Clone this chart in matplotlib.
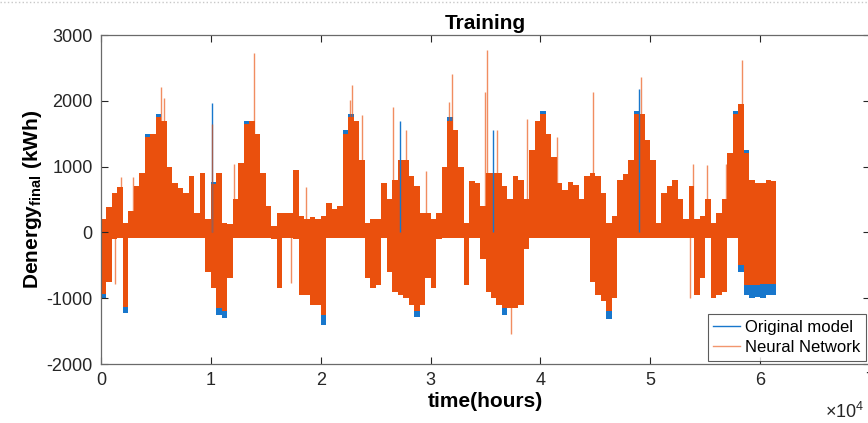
import numpy as np
import matplotlib
matplotlib.use('Agg')
import matplotlib.pyplot as plt
from matplotlib.lines import Line2D

plt.rcParams['font.family'] = ['Liberation Sans', 'DejaVu Sans']
plt.rcParams['mathtext.fontset'] = 'custom'
plt.rcParams['mathtext.rm'] = 'Liberation Sans'
plt.rcParams['mathtext.bf'] = 'Liberation Sans:bold'
plt.rcParams['axes.unicode_minus'] = False

# ---- data: per 500-hour bin envelope ----
bin_hours = 500
t_end = 61400

nn_top = [200, 380, 600, 690, 150, 330, 700, 900, 1450, 1500,
          1750, 1700, 1000, 750, 680, 600, 850, 300, 900, 200,
          740, 900, 150, 130, 500, 1050, 1650, 1700, 1500, 900,
          400, 100, 300, 300, 300, 950, 250, 200, 230, 200,
          250, 450, 350, 400, 1500, 1750, 1700, 1100, 150, 200,
          200, 750, 500, 800, 1100, 1100, 850, 700, 300, 300,
          200, 300, 1000, 1700, 1550, 1000, 150, 780, 750, 400,
          900, 900, 900, 700, 500, 850, 800, 500, 1250, 1700,
          1800, 1500, 1150, 750, 650, 760, 720, 500, 850, 900,
          850, 600, 150, 250, 800, 880, 1100, 1800, 1800, 1400,
          1100, 150, 600, 700, 800, 500, 200, 700, 200, 250,
          500, 150, 300, 500, 1200, 1800, 1950, 1200, 800, 750,
          750, 800, 780]

nn_bot = [-930, -750, -100, -90, -1130, -90, -90, -90, -90, -90,
          -90, -90, -90, -90, -90, -90, -90, -90, -90, -600,
          -850, -1150, -1200, -700, -90, -90, -90, -90, -90, -90,
          -90, -100, -850, -90, -90, -100, -950, -950, -1100, -1100,
          -1250, -90, -90, -90, -90, -90, -90, -90, -700, -850,
          -800, -90, -600, -900, -950, -1000, -1100, -1200, -1100, -700,
          -850, -100, -90, -90, -90, -90, -800, -90, -90, -400,
          -900, -1000, -1100, -1150, -1150, -1150, -1100, -250, -90, -90,
          -90, -90, -90, -90, -90, -90, -90, -90, -90, -750,
          -950, -1050, -1200, -1000, -90, -90, -90, -90, -90, -90,
          -90, -90, -90, -90, -90, -90, -90, -90, -950, -700,
          -90, -1000, -950, -900, -90, -90, -500, -800, -800, -800,
          -780, -780, -780]

orig_top = [200, 380, 600, 690, 150, 330, 700, 900, 1500, 1500,
            1800, 1700, 1000, 750, 680, 600, 850, 300, 900, 200,
            760, 900, 150, 130, 500, 1050, 1700, 1700, 1500, 900,
            400, 100, 300, 300, 300, 950, 250, 200, 230, 200,
            250, 450, 350, 400, 1550, 1800, 1700, 1100, 150, 200,
            200, 750, 500, 800, 1100, 1100, 850, 700, 300, 300,
            200, 300, 1000, 1750, 1550, 1000, 150, 780, 750, 400,
            900, 900, 900, 700, 500, 850, 800, 500, 1250, 1700,
            1850, 1500, 1150, 750, 650, 760, 720, 500, 850, 900,
            850, 600, 150, 250, 800, 880, 1100, 1850, 1800, 1400,
            1100, 150, 600, 700, 800, 500, 200, 700, 200, 250,
            500, 150, 300, 500, 1200, 1850, 1950, 1250, 800, 750,
            750, 800, 780]

orig_bot = [-1000, -750, -100, -90, -1230, -90, -90, -90, -90, -90,
            -90, -90, -90, -90, -90, -90, -90, -90, -90, -600,
            -850, -1250, -1300, -700, -90, -90, -90, -90, -90, -90,
            -90, -100, -850, -90, -90, -100, -950, -950, -1100, -1100,
            -1400, -90, -90, -90, -90, -90, -90, -90, -700, -850,
            -800, -90, -600, -900, -950, -1000, -1100, -1280, -1100, -700,
            -850, -100, -90, -90, -90, -90, -800, -90, -90, -400,
            -900, -1000, -1100, -1250, -1150, -1150, -1100, -250, -90, -90,
            -90, -90, -90, -90, -90, -90, -90, -90, -90, -750,
            -950, -1050, -1320, -1000, -90, -90, -90, -90, -90, -90,
            -90, -90, -90, -90, -90, -90, -90, -90, -950, -700,
            -90, -1000, -950, -900, -90, -90, -600, -950, -1000, -980,
            -1000, -950, -950]

# isolated thin spikes
nn_spike_t = [1250, 1800, 2900, 5450, 5700, 10100, 12150, 13950, 17250, 18670,
              22700, 22850, 23760, 26540, 27800, 29580, 31640, 31910, 34940, 35120,
              36090, 37360, 38760, 41480, 44760, 49120, 53600, 53900, 55120, 56850,
              58360]
nn_spike_v = [-780, 840, 840, 2210, 2050, 1650, 1040, 2720, -770, 690,
              2010, 2240, 1780, 1900, 1550, 940, 1980, 2410, 2140, 2770,
              1550, -1540, 1730, 1450, 2130, 2360, -1000, 1040, 1020, 1040,
              2620]
orig_spike_t = [10100, 27180, 35640, 48970]
orig_spike_v = [1960, 1700, 1550, 2180]

xtick_vals = [0, 10000, 20000, 30000, 40000, 50000, 60000, 70000]
xtick_labels = ['0', '1', '2', '3', '4', '5', '6', '7']
ytick_vals = [-2000, -1000, 0, 1000, 2000, 3000]

blue = '#1877CC'
orange = '#EA500D'

fig = plt.figure(figsize=(8.68, 4.23), dpi=100)
ax = fig.add_axes([101 / 868, 59 / 423, 769 / 868, 329 / 423])

edges = np.minimum(np.arange(len(nn_top) + 1) * bin_hours, t_end)

ax.fill_between(edges, np.r_[orig_bot, orig_bot[-1]], np.r_[orig_top, orig_top[-1]],
                step='post', color=blue, linewidth=0)
ax.vlines(orig_spike_t, 0, orig_spike_v, color=blue, linewidth=1.0)
ax.fill_between(edges, np.r_[nn_bot, nn_bot[-1]], np.r_[nn_top, nn_top[-1]],
                step='post', color=orange, linewidth=0)
ax.vlines(nn_spike_t, 0, nn_spike_v, color=orange, linewidth=1.0, alpha=0.65)

ax.set_xlim(0, 70000)
ax.set_ylim(-2000, 3000)
ax.set_xticks(xtick_vals)
ax.set_xticklabels(xtick_labels)
ax.set_yticks(ytick_vals)
ax.tick_params(direction='in', length=5, width=0.8, top=True, right=True,
               labelsize=13, colors='#262626', pad=6)
for s in ax.spines.values():
    s.set_color('#6a6a6a')
    s.set_linewidth(0.9)

ax.set_title('Training', fontsize=15, fontweight='bold', pad=4)
ax.set_xlabel('time(hours)', fontsize=15, fontweight='bold', labelpad=2)
ax.set_ylabel(r'Denergy$_{\mathbf{final}}$ (kWh)', fontsize=15, fontweight='bold', labelpad=2)

handles = [Line2D([], [], color=blue, lw=1.0), Line2D([], [], color=orange, lw=1.0, alpha=0.6)]
leg = ax.legend(handles, ['Original model', 'Neural Network'], loc='lower right',
                bbox_to_anchor=(0.995, 0.009), borderaxespad=0, fontsize=12,
                fancybox=False, frameon=True, handlelength=1.6, handletextpad=0.3,
                borderpad=0.35, labelspacing=0.3)
leg.get_frame().set_edgecolor('#333333')
leg.get_frame().set_linewidth(0.8)

fig.text(0.951, 0.012, '×10$^{4}$', fontsize=13, color='#262626')
fig.add_artist(Line2D([0, 1], [0.996, 0.996], transform=fig.transFigure,
                      color='#c8c8c8', linestyle=':', linewidth=1))

fig.savefig('out.png', dpi=100)
